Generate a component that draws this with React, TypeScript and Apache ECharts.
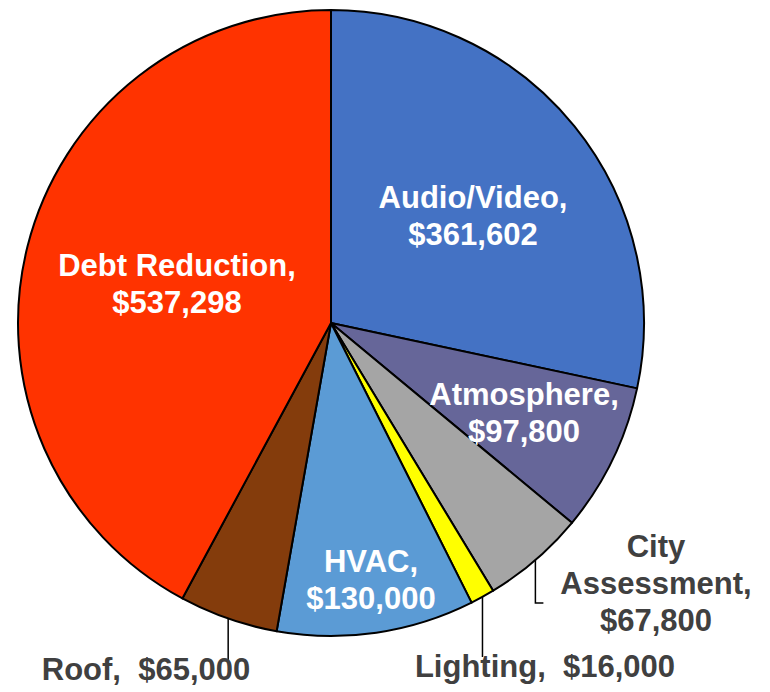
import React, { useEffect, useRef } from "react";
import * as echarts from "echarts";

const categories = ["Audio/Video", "Atmosphere", "City Assessment", "Lighting", "HVAC", "Roof", "Debt Reduction"];
const values = [361602, 97800, 67800, 16000, 130000, 65000, 537298];
const labelLines = [
  ["Audio/Video,", "$361,602"],
  ["Atmosphere,", "$97,800"],
  ["City", "Assessment,", "$67,800"],
  ["Lighting,  $16,000"],
  ["HVAC,", "$130,000"],
  ["Roof,  $65,000"],
  ["Debt Reduction,", "$537,298"],
];
const colors = ["#4472C4", "#666699", "#A5A5A5", "#FFFF00", "#5B9BD5", "#843C0C", "#FF3300"];
const insideLabel = [true, true, false, false, true, false, true];

// layout / style
const CX = 331;
const CY = 323;
const R = 313;
const LABEL_POS: Record<number, [number, number]> = {
  0: [473, 216],
  1: [524, 413],
  2: [656, 583],
  3: [545, 666],
  4: [371, 580],
  5: [146, 669],
  6: [177, 284],
};
const LINE_END: Record<number, { y: number; tick: number }> = {
  2: { y: 603, tick: 8 },
  3: { y: 657, tick: 0 },
  5: { y: 662, tick: 0 },
};

export default function App() {
  const ref = useRef<HTMLDivElement>(null);
  useEffect(() => {
    if (!ref.current) return;
    const chart = echarts.init(ref.current, null, { renderer: "svg" });
    const total = values.reduce((a, b) => a + b, 0);
    const mids: number[] = [];
    let acc = 0;
    values.forEach((v) => {
      const span = (v / total) * 360;
      mids.push(acc + span / 2);
      acc += span;
    });
    const font = "'Liberation Sans', Arial, Helvetica, sans-serif";
    chart.setOption({
      animation: false,
      backgroundColor: "#ffffff",
      series: [
        {
          type: "pie",
          center: [CX, CY],
          radius: R,
          startAngle: 90,
          clockwise: true,
          avoidLabelOverlap: false,
          itemStyle: { borderColor: "#000000", borderWidth: 2 },
          emphasis: { disabled: true },
          label: {
            fontFamily: font,
            fontWeight: "bold",
            fontSize: 31,
            lineHeight: 37,
            align: "center",
          },
          labelLine: { show: true, lineStyle: { color: "#000000", width: 1.5 } },
          data: categories.map((name, i) => ({
            name,
            value: values[i],
            itemStyle: { color: colors[i] },
            label: {
              position: insideLabel[i] ? "inside" : "outside",
              color: insideLabel[i] ? "#ffffff" : "#404040",
              formatter: labelLines[i].join("\n"),
            },
            labelLine: { show: !insideLabel[i] },
          })),
          labelLayout: (p: any) => {
            const i = p.dataIndex;
            const pos = LABEL_POS[i];
            const out: any = { x: pos[0], y: pos[1], align: "center", verticalAlign: "middle" };
            const le = LINE_END[i];
            if (le) {
              const a = (mids[i] * Math.PI) / 180;
              const ex = CX + R * Math.sin(a);
              const ey = CY - R * Math.cos(a);
              out.labelLinePoints = [
                [ex, ey],
                [ex, le.y],
                [ex + le.tick, le.y],
              ];
            }
            return out;
          },
        },
      ],
    });
    return () => chart.dispose();
  }, []);
  return (
    <div
      ref={ref}
      style={{ position: "absolute", left: 0, top: 0, width: 770, height: 692 }}
    />
  );
}
